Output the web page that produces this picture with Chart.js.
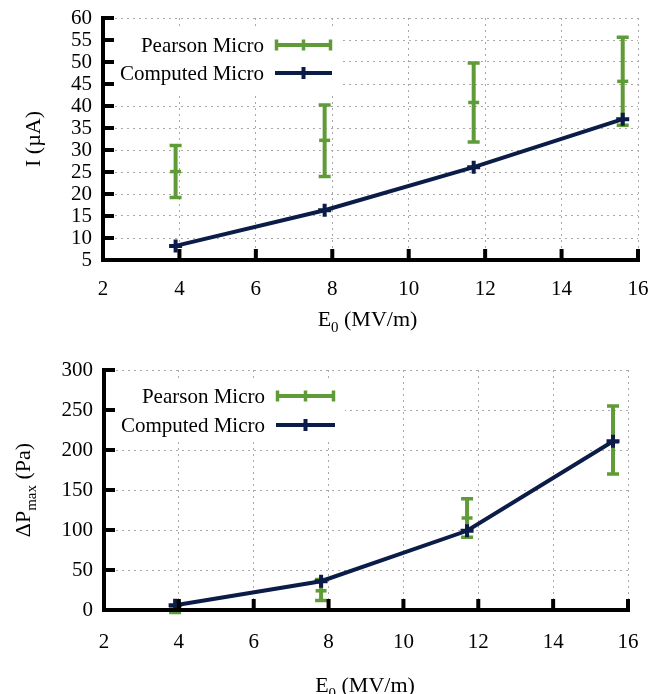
<!DOCTYPE html>
<html><head><meta charset="utf-8">
<script src="https://cdn.jsdelivr.net/npm/chart.js@4.4.1/dist/chart.umd.min.js"></script>
<style>
html,body{margin:0;padding:0;background:#fff;width:660px;height:694px;overflow:hidden;position:relative}
canvas{position:absolute;left:0}
</style></head>
<body>
<canvas id="c1" width="680" height="352" style="top:-12px"></canvas>
<canvas id="c2" width="680" height="360" style="top:340px"></canvas>
<script>
// ---- data ----
const fieldE0 = [3.9, 7.8, 11.7, 15.6];
const xTickValues = [2, 4, 6, 8, 10, 12, 14, 16];
const seriesNames = ['Pearson Micro', 'Computed Micro'];

const currentComputed = [8.2, 16.3, 26.1, 37.0];
const currentPearson = [25.1, 32.2, 40.8, 45.6];
const currentPearsonLow = [19.2, 24.0, 31.8, 35.6];
const currentPearsonHigh = [31.0, 40.2, 49.8, 55.6];
const currentTicks = [5, 10, 15, 20, 25, 30, 35, 40, 45, 50, 55, 60];

const pressureComputed = [6, 36, 99, 211];
const pressurePearson = [1, 24, 115, 210];
const pressurePearsonLow = [-3, 12, 91, 170];
const pressurePearsonHigh = [5, 38, 139, 255];
const pressureTicks = [0, 50, 100, 150, 200, 250, 300];

// ---- style ----
const GREEN = '#5f9b37';
const NAVY = '#0c1c48';
const FONT = '"Liberation Serif", "Times New Roman", serif';

function drawParts(ctx, parts, size) {
  const subSize = size * 0.68;
  let w = 0;
  const widths = parts.map(p => {
    ctx.font = (p.sub ? subSize : size) + 'px ' + FONT;
    const m = ctx.measureText(p.t).width; w += m; return m;
  });
  let x = -w / 2;
  parts.forEach((p, i) => {
    ctx.font = (p.sub ? subSize : size) + 'px ' + FONT;
    ctx.fillText(p.t, x, p.sub ? size * 0.28 : 0);
    x += widths[i];
  });
}

const decorPlugin = {
  id: 'decor',
  beforeDatasetsDraw(chart) {
    const o = chart.options.plugins.decor;
    const { ctx, chartArea: { left }, scales: { x, y } } = chart;
    ctx.save();
    ctx.fillStyle = '#fff';
    ctx.fillRect(left + 2, o.boxTop, o.boxRight - left - 2, o.boxBottom - o.boxTop);
    ctx.fillStyle = '#000';
    ctx.font = '21px ' + FONT;
    ctx.textAlign = 'right';
    ctx.textBaseline = 'middle';
    ctx.fillText(seriesNames[0], o.textRight, o.row1 + 1);
    ctx.fillText(seriesNames[1], o.textRight, o.row2 + 1);
    const mid = (o.sampleL + o.sampleR) / 2;
    ctx.strokeStyle = GREEN;
    ctx.lineWidth = 4;
    ctx.beginPath();
    ctx.moveTo(o.sampleL, o.row1); ctx.lineTo(o.sampleR, o.row1);
    ctx.stroke();
    ctx.lineWidth = 3.5;
    ctx.beginPath();
    [o.sampleL + 1.5, mid, o.sampleR - 1.5].forEach(px => {
      ctx.moveTo(px, o.row1 - 5.5); ctx.lineTo(px, o.row1 + 5.5);
    });
    ctx.stroke();
    ctx.strokeStyle = NAVY;
    ctx.lineWidth = 4;
    ctx.beginPath();
    ctx.moveTo(o.sampleL, o.row2); ctx.lineTo(o.sampleR, o.row2);
    ctx.moveTo(mid, o.row2 - 6); ctx.lineTo(mid, o.row2 + 6);
    ctx.stroke();
    ctx.strokeStyle = GREEN;
    for (let i = 0; i < o.xs.length; i++) {
      const px = x.getPixelForValue(o.xs[i]);
      const pl = y.getPixelForValue(o.lo[i]);
      const ph = y.getPixelForValue(o.hi[i]);
      ctx.lineWidth = 4;
      ctx.beginPath(); ctx.moveTo(px, pl); ctx.lineTo(px, ph); ctx.stroke();
      ctx.lineWidth = 3.5;
      ctx.beginPath();
      ctx.moveTo(px - 6, pl); ctx.lineTo(px + 6, pl);
      ctx.moveTo(px - 6, ph); ctx.lineTo(px + 6, ph);
      ctx.stroke();
    }
    ctx.restore();
  },
  afterDatasetsDraw(chart) {
    const o = chart.options.plugins.decor;
    const { ctx, chartArea: { left, right, top, bottom }, scales: { x, y } } = chart;
    ctx.save();
    ctx.strokeStyle = '#000';
    ctx.lineWidth = 4;
    ctx.lineJoin = 'miter';
    ctx.lineCap = 'square';
    ctx.beginPath();
    ctx.moveTo(left, top); ctx.lineTo(left, bottom); ctx.lineTo(right, bottom);
    ctx.stroke();
    ctx.lineCap = 'butt';
    ctx.beginPath();
    y.ticks.forEach(t => { const py = y.getPixelForValue(t.value); ctx.moveTo(left, py); ctx.lineTo(left + 11, py); });
    x.ticks.forEach(t => { const px = x.getPixelForValue(t.value); ctx.moveTo(px, bottom); ctx.lineTo(px, bottom - 11); });
    ctx.stroke();
    ctx.fillStyle = '#000';
    ctx.textAlign = 'left';
    ctx.textBaseline = 'alphabetic';
    ctx.save();
    ctx.translate((left + right) / 2 + o.xTitleDx, o.xTitleBase);
    drawParts(ctx, o.xTitle, 22);
    ctx.restore();
    ctx.save();
    ctx.translate(o.yTitleX, (top + bottom) / 2);
    ctx.rotate(-Math.PI / 2);
    drawParts(ctx, o.yTitle, o.yTitleSize);
    ctx.restore();
    ctx.restore();
  }
};

function makeChart(id, cfg) {
  const pts = (vals) => fieldE0.map((v, i) => ({ x: v, y: vals[i] }));
  return new Chart(document.getElementById(id), {
    type: 'scatter',
    data: {
      datasets: [
        {
          label: seriesNames[1], data: pts(cfg.computed), showLine: true,
          borderColor: NAVY, backgroundColor: NAVY, borderWidth: 4,
          pointStyle: 'cross', pointRadius: 6.5, pointBorderWidth: 4, pointHoverRadius: 6.5,
          clip: false
        },
        {
          label: seriesNames[0], data: pts(cfg.pearson), showLine: false,
          borderColor: GREEN, backgroundColor: GREEN,
          pointStyle: 'line', pointRadius: 5.5, pointBorderWidth: 3.5, pointHoverRadius: 5.5,
          clip: false
        }
      ]
    },
    options: {
      responsive: false, animation: false, devicePixelRatio: 1,
      layout: { padding: cfg.padding },
      plugins: {
        legend: { display: false }, tooltip: { enabled: false },
        decor: Object.assign({ xs: fieldE0, lo: cfg.lo, hi: cfg.hi }, cfg.decor)
      },
      events: [],
      scales: {
        x: {
          type: 'linear', min: 2, max: 16,
          afterBuildTicks: s => { s.ticks = xTickValues.map(v => ({ value: v })); },
          afterFit: s => { s.height = cfg.xHeight; },
          grid: { color: '#a8a8a8', lineWidth: 1, drawTicks: false },
          border: { display: false, dash: [2, 4] },
          ticks: { color: '#000', padding: cfg.xPad, maxRotation: 0, autoSkip: false, font: { family: FONT, size: 21 } }
        },
        y: {
          type: 'linear', min: cfg.yTicks[0], max: cfg.yTicks[cfg.yTicks.length - 1],
          afterBuildTicks: s => { s.ticks = cfg.yTicks.map(v => ({ value: v })); },
          afterFit: s => { s.width = cfg.yWidth; },
          grid: { color: '#a8a8a8', lineWidth: 1, drawTicks: false },
          border: { display: false, dash: [2, 4] },
          ticks: { color: '#000', padding: 11, autoSkip: false, font: { family: FONT, size: 21 } }
        }
      }
    },
    plugins: [decorPlugin]
  });
}

// top chart: canvas shifted up 12px (canvas y = page y + 12)
makeChart('c1', {
  computed: currentComputed, pearson: currentPearson, lo: currentPearsonLow, hi: currentPearsonHigh,
  yTicks: currentTicks, padding: { top: 30, right: 42, left: 0, bottom: 0 },
  yWidth: 103, xHeight: 80, xPad: 17,
  decor: {
    boxTop: 41, boxBottom: 107, boxRight: 343, row1: 57, row2: 85, textRight: 264, sampleL: 275, sampleR: 332,
    xTitle: [{ t: 'E' }, { t: '0', sub: true }, { t: ' (MV/m)' }], xTitleBase: 338, xTitleDx: -3,
    yTitle: [{ t: 'I (µA)' }], yTitleX: 40, yTitleSize: 22
  }
});

// bottom chart: canvas y = page y - 340
makeChart('c2', {
  computed: pressureComputed, pearson: pressurePearson, lo: pressurePearsonLow, hi: pressurePearsonHigh,
  yTicks: pressureTicks, padding: { top: 30, right: 52, left: 0, bottom: 0 },
  yWidth: 104, xHeight: 90, xPad: 20,
  decor: {
    boxTop: 40, boxBottom: 100, boxRight: 345, row1: 56, row2: 85, textRight: 265, sampleL: 276, sampleR: 335,
    xTitle: [{ t: 'E' }, { t: '0', sub: true }, { t: ' (MV/m)' }], xTitleBase: 352, xTitleDx: -1,
    yTitle: [{ t: 'ΔP' }, { t: 'max', sub: true }, { t: ' (Pa)' }], yTitleX: 30, yTitleSize: 22
  }
});
</script>
</body></html>
